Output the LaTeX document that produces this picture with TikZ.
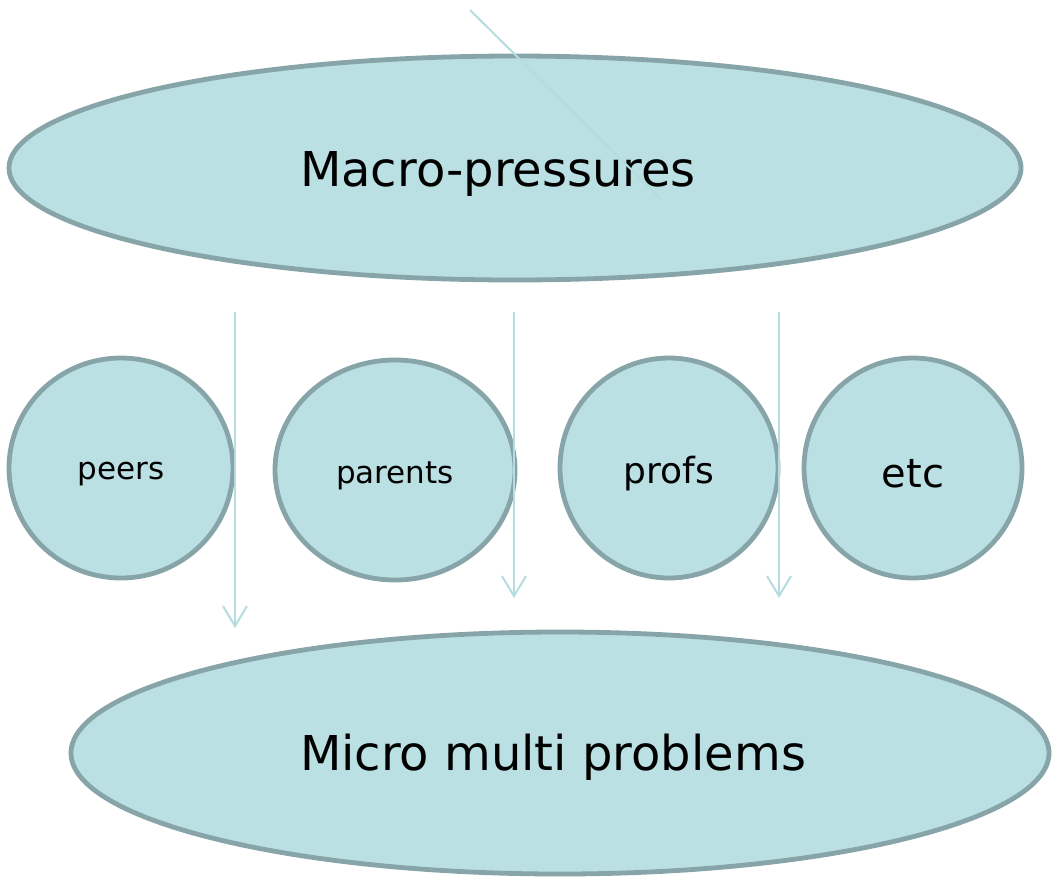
\documentclass[tikz,border=0pt]{standalone}
\usepackage{fontspec}
\setmainfont{DejaVu Sans}
\usetikzlibrary{arrows.meta,shapes.geometric}
\definecolor{MmFill}{HTML}{BAE0E3}
\definecolor{MmEdge}{HTML}{87A5A8}
\definecolor{MmLine}{HTML}{B5DCDF}
\tikzset{
  mmbubble/.style={
    ellipse,
    draw=MmEdge,
    fill=MmFill,
    line width=2.4pt,
    inner sep=0pt,
    align=center
  },
  mmtext/.style={font=\fontsize{#1}{#1}\selectfont,yshift=-3pt},
  mmarrow/.style={-{Straight Barb[length=10pt,width=12pt]},line width=1pt,draw=MmLine}
}
\begin{document}
\begin{tikzpicture}[x=0.5pt,y=-0.5pt]
        \useasboundingbox (0,0) rectangle (1054,879);
        % the two large ellipses
        \node[mmbubble,minimum width=506pt,minimum height=112pt,
              label={[mmtext=24,xshift=-8.5pt]center:Macro-pressures}] (macro) at (515,168) {};
        \node[mmbubble,minimum width=489pt,minimum height=121pt,
              label={[mmtext=24,xshift=-3.5pt,yshift=1pt]center:Micro multi problems}] (micro) at (560,753) {};
        % the row of circles
        \node[mmbubble,minimum width=112pt,minimum height=110pt,
              label={[mmtext=15.5]center:peers}] (peers) at (121,468) {};
        \node[mmbubble,minimum width=120pt,minimum height=110pt,
              label={[mmtext=15.5]center:parents}] (parents) at (395,470) {};
        \node[mmbubble,minimum width=109pt,minimum height=110pt,
              label={[mmtext=18]center:profs}] (profs) at (669,468) {};
        \node[mmbubble,minimum width=109pt,minimum height=110pt,
              label={[mmtext=20]center:etc}] (etc) at (913,468) {};
        % arrow ends
        \coordinate (s1) at (235,312);
        \coordinate (e1) at (235,628);
        \coordinate (s2) at (514,312);
        \coordinate (e2) at (514,598);
        \coordinate (s3) at (779,312);
        \coordinate (e3) at (779,598);
        \coordinate (d1) at (470,10);
        \coordinate (d2) at (662,200);
        \draw[mmarrow] (s1) -- (e1);
        \draw[mmarrow] (s2) -- (e2);
        \draw[mmarrow] (s3) -- (e3);
        \draw[line width=1pt,draw=MmLine] (d1) -- (d2);
      \end{tikzpicture}
\end{document}
